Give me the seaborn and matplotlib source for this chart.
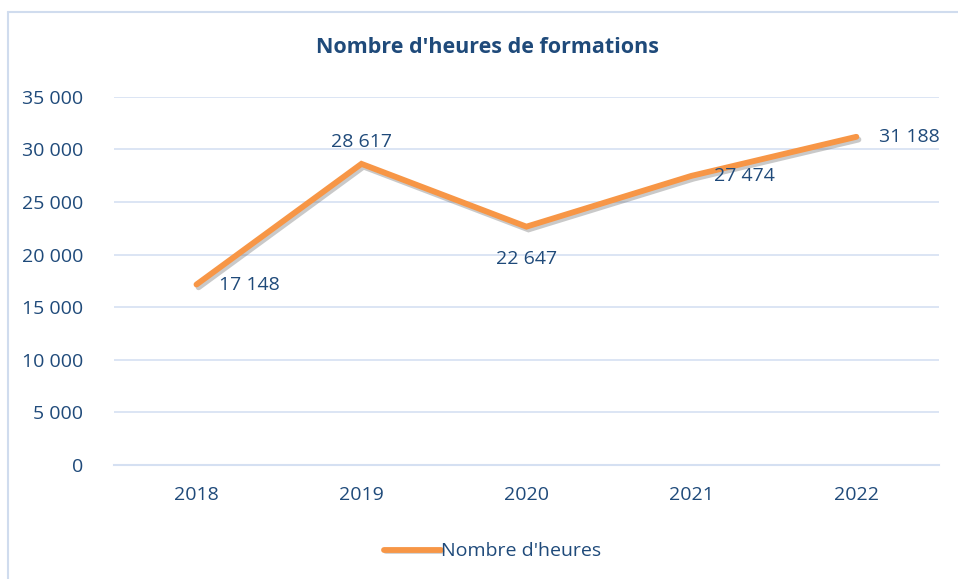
import matplotlib
matplotlib.use("Agg")
import matplotlib.pyplot as plt
import matplotlib.patheffects as pe
from matplotlib.lines import Line2D
from matplotlib.ticker import FuncFormatter, FixedLocator
import seaborn as sns
import pandas as pd

years = ["2018", "2019", "2020", "2021", "2022"]
heures = [17148, 28617, 22647, 27474, 31188]
label_pos = ["right", "above", "below", "right", "right"]
title = "Nombre d'heures de formations"
series_name = "Nombre d'heures"

TXT = "#1F4A7A"
ORANGE = "#F79646"
GRID = "#D5E0F2"

sns.set_theme(style="white")
plt.rcParams["font.family"] = ["Open Sans", "DejaVu Sans"]

fig = plt.figure(figsize=(9.58, 5.79), dpi=100)
ax = fig.add_axes([0.119, 0.197, 0.861, 0.636])

df = pd.DataFrame({"annee": years, "heures": heures})
sns.lineplot(data=df, x="annee", y="heures", ax=ax, color=ORANGE, linewidth=4.2,
             label=series_name, solid_capstyle="round", solid_joinstyle="miter",
             path_effects=[pe.SimpleLineShadow(offset=(1.5, -2), shadow_color="#666666", alpha=0.35),
                           pe.Normal()])

ax.set_ylim(0, 35000)
ax.set_xlim(-0.5, len(years) - 0.5)
ax.set_yticks(range(0, 35001, 5000))
ax.yaxis.set_major_formatter(FuncFormatter(lambda v, p: f"{int(v):,}".replace(",", " ")))
ax.grid(axis="y", color=GRID, linewidth=1.2)
ax.set_axisbelow(True)
for s in ["top", "right", "left"]:
    ax.spines[s].set_visible(False)
ax.spines["bottom"].set_color(GRID)
ax.spines["bottom"].set_linewidth(1.5)
ax.set_xlabel("")
ax.set_ylabel("")
ax.tick_params(axis="y", length=0, labelsize=14, labelcolor=TXT, pad=22)
ax.tick_params(axis="x", which="major", length=0, labelsize=14, labelcolor=TXT, pad=15)
ax.xaxis.set_minor_locator(FixedLocator([i - 0.5 for i in range(len(years) + 1)]))
ax.tick_params(axis="x", which="minor", length=6, width=1.2, color=GRID, direction="out")

for i, (v, pos) in enumerate(zip(heures, label_pos)):
    s = f"{v:,}".replace(",", " ")
    if pos == "right":
        ax.annotate(s, (i, v), xytext=(16, 0), textcoords="offset points",
                    ha="left", va="center", fontsize=14, color=TXT)
    elif pos == "above":
        ax.annotate(s, (i, v), xytext=(0, 9), textcoords="offset points",
                    ha="center", va="bottom", fontsize=14, color=TXT)
    else:
        ax.annotate(s, (i, v), xytext=(0, -17), textcoords="offset points",
                    ha="center", va="top", fontsize=14, color=TXT)

fig.text(0.509, 0.918, title, ha="center", va="center", fontsize=15.5, fontweight="bold", color=TXT)

leg = ax.legend(loc="center", bbox_to_anchor=(0.459, -0.235), frameon=False, fontsize=14,
                handlelength=2.9, handletextpad=0.0)
for t in leg.get_texts():
    t.set_color(TXT)
for h in leg.get_lines():
    h.set_linewidth(4.2)
    h.set_path_effects([pe.SimpleLineShadow(offset=(1, -1), shadow_color="#666666", alpha=0.3), pe.Normal()])

x0, y0 = 7.5 / 958, 1 - 11.5 / 579
fig.add_artist(Line2D([x0, x0], [0, y0], transform=fig.transFigure, color="#D0DCEE", linewidth=1.5))
fig.add_artist(Line2D([x0, 1], [y0, y0], transform=fig.transFigure, color="#D0DCEE", linewidth=1.5))

fig.savefig("out.png", dpi=100)
